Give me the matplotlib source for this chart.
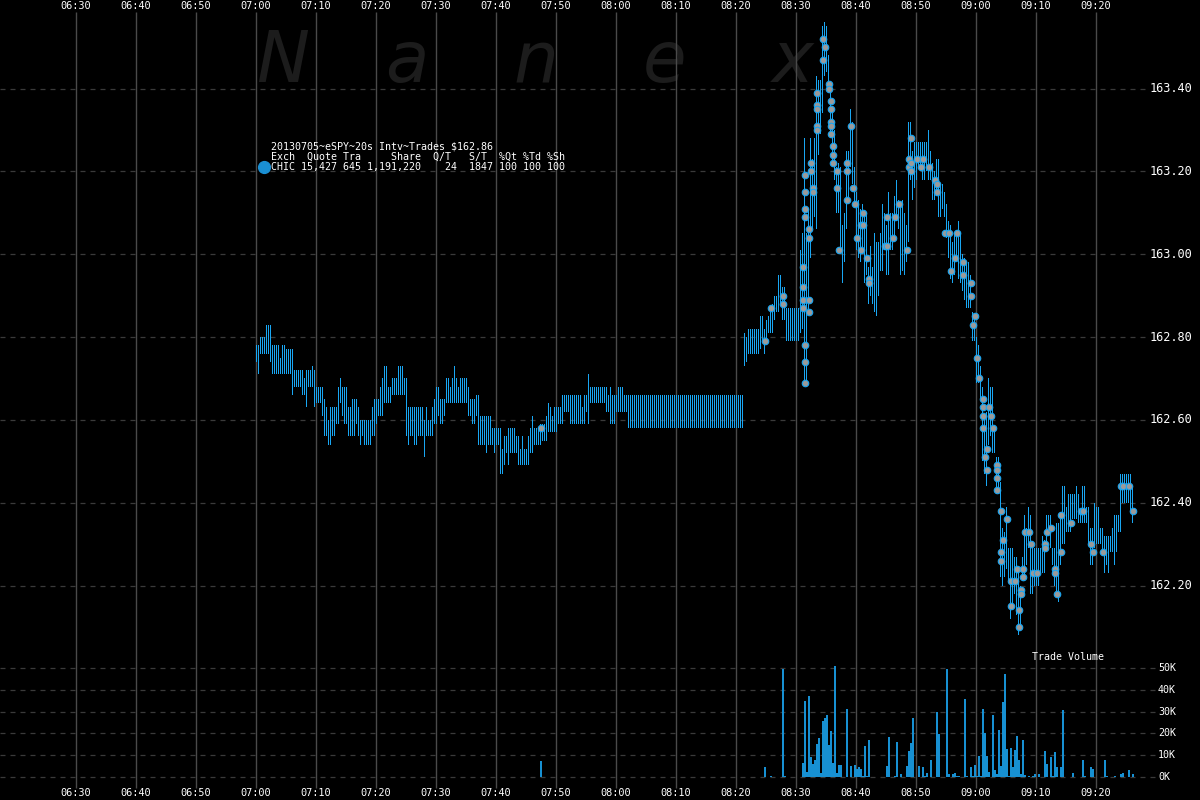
import numpy as np
import matplotlib
matplotlib.use("Agg")
import matplotlib.pyplot as plt

# ---------------- data ----------------
time_labels = ["06:30", "06:40", "06:50", "07:00", "07:10", "07:20", "07:30", "07:40", "07:50",
               "08:00", "08:10", "08:20", "08:30", "08:40", "08:50", "09:00", "09:10", "09:20"]
price_ticks = [162.20, 162.40, 162.60, 162.80, 163.00, 163.20, 163.40]
vol_ticks = [0, 10000, 20000, 30000, 40000, 50000]
vol_tick_labels = ["0K", "10K", "20K", "30K", "40K", "50K"]

# 20-second bars from 07:00, run-length encoded (count, low, high)
# section A: 07:00 - 07:39
len_a = [1, 1, 3, 2, 1, 4, 1, 2, 3, 1,
         4, 1, 1, 1, 2, 1, 1, 3, 1, 1,
         1, 1, 1, 2, 1, 1, 1, 1, 2, 2,
         2, 1, 1, 1, 1, 4, 1, 1, 1, 1,
         1, 1, 2, 2, 3, 3, 1, 1, 1, 2,
         2, 3, 1, 1, 2, 1, 1, 1, 1, 2,
         1, 2, 1, 1, 1, 1, 1, 4, 1, 1,
         2, 1, 1, 3, 1, 2]
lo_a = [162.74, 162.71, 162.76, 162.76, 162.74, 162.71, 162.71, 162.71, 162.71, 162.66,
        162.68, 162.66, 162.66, 162.63, 162.68, 162.68, 162.63, 162.64, 162.61, 162.56,
        162.56, 162.54, 162.54, 162.56, 162.59, 162.59, 162.64, 162.61, 162.59, 162.56,
        162.56, 162.59, 162.56, 162.54, 162.56, 162.54, 162.56, 162.56, 162.59, 162.61,
        162.61, 162.61, 162.64, 162.64, 162.66, 162.66, 162.66, 162.56, 162.54, 162.56,
        162.54, 162.56, 162.51, 162.56, 162.56, 162.56, 162.59, 162.59, 162.61, 162.59,
        162.61, 162.64, 162.64, 162.64, 162.64, 162.64, 162.64, 162.64, 162.61, 162.61,
        162.59, 162.61, 162.54, 162.54, 162.52, 162.54]
hi_a = [162.78, 162.78, 162.80, 162.83, 162.83, 162.78, 162.75, 162.78, 162.77, 162.77,
        162.72, 162.72, 162.70, 162.72, 162.72, 162.73, 162.72, 162.68, 162.68, 162.65,
        162.63, 162.60, 162.63, 162.63, 162.63, 162.68, 162.70, 162.68, 162.68, 162.63,
        162.65, 162.65, 162.63, 162.60, 162.60, 162.60, 162.63, 162.65, 162.65, 162.65,
        162.68, 162.70, 162.73, 162.68, 162.70, 162.73, 162.70, 162.70, 162.63, 162.63,
        162.63, 162.63, 162.60, 162.63, 162.60, 162.63, 162.65, 162.68, 162.68, 162.65,
        162.65, 162.70, 162.68, 162.70, 162.73, 162.70, 162.68, 162.70, 162.68, 162.65,
        162.65, 162.66, 162.66, 162.61, 162.61, 162.61]
# section B: 07:39 - 08:21
len_b = [1, 1, 2, 1, 1, 1, 1, 1, 3, 1,
         1, 1, 1, 2, 1, 1, 1, 3, 1, 2,
         1, 1, 1, 1, 2, 2, 1, 3, 6, 1,
         1, 1, 1, 8, 1, 1, 1, 2, 1, 3,
         2, 58]
lo_b = [162.54, 162.52, 162.54, 162.47, 162.47, 162.49, 162.52, 162.49, 162.52, 162.52,
        162.49, 162.49, 162.49, 162.49, 162.49, 162.52, 162.52, 162.54, 162.54, 162.55,
        162.55, 162.57, 162.57, 162.57, 162.57, 162.59, 162.59, 162.62, 162.59, 162.59,
        162.59, 162.62, 162.59, 162.64, 162.62, 162.62, 162.59, 162.59, 162.62, 162.62,
        162.62, 162.58]
hi_b = [162.58, 162.58, 162.58, 162.58, 162.53, 162.56, 162.56, 162.58, 162.58, 162.56,
        162.56, 162.53, 162.56, 162.53, 162.56, 162.58, 162.61, 162.58, 162.59, 162.59,
        162.61, 162.64, 162.63, 162.61, 162.63, 162.63, 162.66, 162.66, 162.66, 162.63,
        162.66, 162.66, 162.71, 162.68, 162.68, 162.66, 162.68, 162.66, 162.66, 162.68,
        162.66, 162.66]
# section C: 08:21 - 08:30
len_c = [1, 1, 6, 1, 1, 1, 1, 1, 1, 1,
         1, 1, 1, 1, 2, 7]
lo_c = [162.73, 162.74, 162.76, 162.77, 162.79, 162.76, 162.78, 162.81, 162.81, 162.81,
        162.84, 162.86, 162.86, 162.88, 162.84, 162.79]
hi_c = [162.81, 162.80, 162.82, 162.85, 162.85, 162.82, 162.84, 162.85, 162.87, 162.88,
        162.90, 162.90, 162.95, 162.95, 162.92, 162.87]

# single 20-second bars from 08:30:40 onward (low, high)
late_lo = [162.81, 162.82, 162.69, 162.68, 162.86, 162.99, 163.06, 163.09, 163.06, 163.24,
           163.29, 163.34, 163.43, 163.44, 163.39, 163.29, 163.22, 163.18, 163.10, 163.10,
           163.01, 162.93, 162.98, 163.06, 163.13, 163.21, 163.17, 163.12, 163.01, 162.99,
           162.98, 163.00, 162.93, 162.95, 162.88, 162.90, 162.88, 162.86, 162.85, 162.90,
           162.96, 162.96, 163.01, 162.95, 162.95, 163.01, 163.01, 163.04, 163.08, 163.06,
           162.95, 162.96, 162.95, 162.98, 163.03, 163.18, 163.13, 163.16, 163.18, 163.21,
           163.21, 163.18, 163.18, 163.20, 163.18, 163.18, 163.13, 163.13, 163.14, 163.09,
           163.09, 163.11, 163.09, 163.04, 162.99, 162.94, 162.93, 162.95, 162.99, 162.94,
           162.93, 162.91, 162.89, 162.87, 162.87, 162.87, 162.79, 162.79, 162.69, 162.69,
           162.65, 162.50, 162.47, 162.44, 162.54, 162.56, 162.52, 162.52, 162.42, 162.42,
           162.22, 162.20, 162.22, 162.24, 162.21, 162.12, 162.14, 162.18, 162.13, 162.08,
           162.10, 162.21, 162.22, 162.25, 162.29, 162.18, 162.18, 162.20, 162.20, 162.20,
           162.23, 162.23, 162.23, 162.29, 162.34, 162.29, 162.25, 162.20, 162.18, 162.16,
           162.25, 162.30, 162.30, 162.33, 162.33, 162.33, 162.36, 162.36, 162.36, 162.35,
           162.35, 162.35, 162.35, 162.35, 162.30, 162.25, 162.25, 162.29, 162.30, 162.30,
           162.30, 162.28, 162.23, 162.25, 162.23, 162.28, 162.28, 162.25, 162.28, 162.33,
           162.33, 162.40, 162.40, 162.40, 162.40, 162.38, 162.35]
late_hi = [163.01, 163.05, 163.28, 163.05, 163.11, 163.28, 163.23, 163.28, 163.43, 163.42,
           163.42, 163.55, 163.56, 163.55, 163.48, 163.40, 163.34, 163.30, 163.21, 163.22,
           163.21, 163.07, 163.10, 163.25, 163.25, 163.35, 163.32, 163.21, 163.15, 163.13,
           163.11, 163.12, 163.09, 163.10, 162.97, 163.02, 162.97, 163.05, 163.03, 163.03,
           163.05, 163.12, 163.10, 163.07, 163.15, 163.10, 163.10, 163.14, 163.18, 163.13,
           163.12, 163.13, 163.10, 163.07, 163.32, 163.32, 163.25, 163.27, 163.27, 163.27,
           163.27, 163.27, 163.27, 163.27, 163.30, 163.25, 163.22, 163.20, 163.23, 163.23,
           163.17, 163.17, 163.15, 163.12, 163.08, 163.07, 163.03, 163.05, 163.05, 163.08,
           163.05, 163.00, 162.99, 162.98, 162.98, 162.95, 162.86, 162.85, 162.80, 162.78,
           162.73, 162.68, 162.61, 162.62, 162.70, 162.68, 162.68, 162.58, 162.51, 162.51,
           162.45, 162.34, 162.33, 162.39, 162.29, 162.29, 162.29, 162.27, 162.27, 162.24,
           162.20, 162.27, 162.37, 162.34, 162.39, 162.37, 162.29, 162.29, 162.29, 162.29,
           162.29, 162.32, 162.31, 162.37, 162.37, 162.37, 162.29, 162.29, 162.35, 162.35,
           162.37, 162.44, 162.44, 162.39, 162.42, 162.42, 162.42, 162.42, 162.44, 162.42,
           162.38, 162.44, 162.44, 162.39, 162.39, 162.34, 162.34, 162.40, 162.39, 162.39,
           162.34, 162.34, 162.32, 162.32, 162.32, 162.32, 162.34, 162.37, 162.37, 162.37,
           162.47, 162.47, 162.47, 162.47, 162.47, 162.47, 162.44]

# trade volume per 20-second bar index (thousands of shares)
vol_idx = [142, 254, 257, 263, 264, 273, 274, 275, 276, 277,
           278, 279, 280, 281, 282, 283, 284, 285, 286, 287,
           288, 289, 290, 291, 292, 295, 297, 299, 300, 301,
           302, 303, 304, 305, 306, 315, 316, 319, 320, 322,
           325, 326, 327, 328, 331, 333, 334, 335, 337, 340,
           341, 345, 346, 348, 349, 350, 351, 354, 355, 357,
           358, 359, 360, 361, 362, 363, 364, 365, 366, 368,
           369, 370, 371, 372, 373, 374, 375, 376, 377, 378,
           379, 380, 381, 382, 383, 384, 386, 388, 389, 391,
           394, 395, 397, 398, 399, 400, 402, 403, 408, 413,
           414, 417, 418, 424, 425, 429, 432, 433, 436, 438]
vol_k = [7.3, 4.7, 0.6, 49.7, 0.5, 6.4, 35.0, 2.4, 37.3, 9.3,
         6.1, 8.0, 15.1, 18.0, 2.0, 25.5, 27.0, 28.6, 14.8, 21.3,
         6.6, 51.0, 2.0, 5.7, 5.7, 31.2, 5.2, 5.7, 3.8, 4.7,
         3.8, 0.3, 14.2, 0.3, 17.1, 5.0, 18.3, 0.3, 15.9, 1.5,
         5.0, 11.8, 15.6, 27.2, 5.2, 4.7, 0.3, 2.0, 8.0, 30.0,
         19.7, 49.7, 1.2, 1.2, 1.8, 0.6, 0.3, 36.0, 0.6, 4.7,
         0.3, 5.7, 0.6, 9.6, 0.6, 31.0, 20.0, 9.8, 2.1, 28.6,
         3.1, 1.2, 21.6, 5.0, 34.6, 47.3, 13.0, 0.3, 13.3, 4.7,
         12.5, 18.8, 8.0, 1.5, 17.0, 1.0, 0.3, 0.3, 1.5, 1.5,
         12.0, 6.1, 9.3, 0.3, 11.5, 4.7, 4.7, 30.6, 2.0, 7.9,
         0.3, 4.6, 3.5, 7.9, 0.3, 0.3, 1.5, 2.0, 3.4, 1.5]

# individual trade prints (bar index, price)
dot_idx = [142, 254, 257, 263, 263, 273, 273, 273, 273, 274,
           274, 274, 274, 274, 274, 274, 276, 276, 276, 276,
           277, 277, 278, 278, 280, 280, 280, 280, 280, 283,
           283, 284, 286, 286, 287, 287, 287, 287, 287, 288,
           288, 288, 290, 290, 291, 295, 295, 295, 297, 298,
           299, 300, 302, 302, 303, 303, 305, 306, 306, 314,
           315, 315, 318, 319, 321, 325, 326, 326, 327, 327,
           327, 330, 332, 333, 336, 339, 340, 340, 344, 346,
           347, 349, 350, 353, 353, 357, 357, 358, 359, 360,
           361, 363, 363, 363, 363, 364, 365, 365, 366, 367,
           368, 370, 370, 370, 370, 372, 372, 372, 373, 375,
           377, 377, 379, 380, 381, 381, 382, 382, 383, 383,
           384, 386, 387, 388, 390, 394, 394, 395, 397, 399,
           399, 400, 402, 402, 407, 412, 413, 417, 418, 423,
           432, 433, 436, 438]
dot_px = [162.58, 162.79, 162.87, 162.90, 162.88, 162.97, 162.92, 162.89, 162.87, 163.19,
          163.15, 163.11, 163.09, 162.78, 162.74, 162.69, 163.06, 163.04, 162.89, 162.86,
          163.22, 163.20, 163.16, 163.15, 163.39, 163.36, 163.35, 163.31, 163.30, 163.47,
          163.52, 163.50, 163.41, 163.40, 163.37, 163.35, 163.32, 163.31, 163.29, 163.26,
          163.24, 163.22, 163.20, 163.16, 163.01, 163.13, 163.22, 163.20, 163.31, 163.16,
          163.12, 163.04, 163.07, 163.01, 163.10, 163.07, 162.99, 162.94, 162.93, 163.02,
          163.09, 163.02, 163.04, 163.09, 163.12, 163.01, 163.23, 163.21, 163.28, 163.22,
          163.20, 163.23, 163.21, 163.23, 163.21, 163.18, 163.17, 163.15, 163.05, 163.05,
          162.96, 162.99, 163.05, 162.98, 162.95, 162.93, 162.90, 162.83, 162.85, 162.75,
          162.70, 162.65, 162.63, 162.61, 162.58, 162.51, 162.53, 162.48, 162.63, 162.61,
          162.58, 162.49, 162.48, 162.46, 162.43, 162.38, 162.26, 162.28, 162.31, 162.36,
          162.21, 162.15, 162.21, 162.24, 162.14, 162.10, 162.19, 162.18, 162.24, 162.22,
          162.33, 162.33, 162.30, 162.23, 162.23, 162.30, 162.29, 162.33, 162.34, 162.24,
          162.23, 162.18, 162.28, 162.37, 162.35, 162.38, 162.38, 162.30, 162.28, 162.28,
          162.44, 162.44, 162.44, 162.38]

legend_title = "20130705~eSPY~20s Intv~Trades $162.86"
legend_head = "Exch  Quote Tra     Share  Q/T   S/T  %Qt %Td %Sh"
legend_row = "CHIC 15,427 645 1,191,220    24  1847 100 100 100"
watermark = "Nanex"

# ---------------- layout helpers (pixel <-> data) ----------------
W, H = 1200, 800
PX_MIN = 6.0
X0 = 76.0
PY0, PY_PER = 88.5, 414.2

def mx(px):
    return (px - X0) / PX_MIN

def pp(py):
    return 163.40 - (py - PY0) / PY_PER

BAR_BLUE = "#19a6f2"
VOL_BLUE = "#1790d2"
GRID_V = "#4a4a4a"
GRID_H = "#3a3a3a"
MONO = "DejaVu Sans Mono"

fig = plt.figure(figsize=(12, 8), dpi=100, facecolor="black")
ax = fig.add_axes([0, 0, 1, 1])
ax.set_facecolor("black")
ax.set_xlim(mx(0), mx(W))
ax.set_ylim(pp(H), pp(0))
ax.axis("off")

for k, ch in enumerate(watermark):
    ax.text(mx(256 + 129 * k), pp(82), ch, fontsize=51, style="italic",
            family="DejaVu Sans", color="#1c1c1c", ha="left", va="baseline", zorder=0)

for k, lab in enumerate(time_labels):
    xm = k * 10
    ax.plot([xm, xm], [pp(788), pp(12)], color=GRID_V, lw=1.0, zorder=1, solid_capstyle="butt")
    ax.text(xm, pp(6), lab, color="white", fontsize=7.4, family=MONO, ha="center", va="center")
    ax.text(xm, pp(793), lab, color="white", fontsize=7.4, family=MONO, ha="center", va="center")

for p in price_ticks:
    ax.plot([mx(0), mx(1146)], [p, p], color=GRID_H, lw=0.9, ls=(0, (4, 4)), zorder=1)
    ax.text(mx(1150), p, f"{p:.2f}", color="white", fontsize=8.6, family=MONO,
            ha="left", va="center")

# price bars: one-pixel-wide rectangles (low..high) per 20-second interval
run_len = len_a + len_b + len_c
run_lo = lo_a + lo_b + lo_c
run_hi = hi_a + hi_b + hi_c
lo = np.concatenate([np.repeat(run_lo, run_len), late_lo])
hi = np.concatenate([np.repeat(run_hi, run_len), late_hi])
idx = np.arange(len(lo))
bx = 30 + idx / 3
ax.bar(bx, hi - lo, bottom=lo, width=1.0 / PX_MIN, align="edge", color=BAR_BLUE,
       linewidth=0, antialiased=False, zorder=2)

n_dot = min(len(dot_idx), len(dot_px))
dx = 30 + np.array(dot_idx[:n_dot]) / 3 + 1 / 12
ax.scatter(dx, dot_px[:n_dot], s=22, c="#9a9a9a", edgecolors=BAR_BLUE, linewidths=0.8, zorder=3)

ax.text(mx(271), pp(147), legend_title, color="white", fontsize=7.2, family=MONO, ha="left", va="center")
ax.text(mx(271), pp(157), legend_head, color="white", fontsize=7.2, family=MONO, ha="left", va="center")
ax.text(mx(271), pp(167), legend_row, color="white", fontsize=7.2, family=MONO, ha="left", va="center")
ax.plot([mx(263.5)], [pp(167)], marker="o", markersize=8.5, color="#1a8fd3", zorder=4)

VB0, VPX = 777.0, 109.0 / 50000.0
top_px, bot_px = 650, 795
vax = fig.add_axes([0, (H - bot_px) / H, 1, (bot_px - top_px) / H])
vax.patch.set_alpha(0)
vax.set_xlim(mx(0), mx(W))
vax.set_ylim(-(bot_px - VB0) / VPX, (VB0 - top_px) / VPX)
vax.axis("off")
for v, lab in zip(vol_ticks, vol_tick_labels):
    vax.plot([mx(0), mx(1155)], [v, v], color=GRID_H, lw=0.9, ls=(0, (4, 4)), zorder=1)
    vax.text(mx(1158), v, lab, color="white", fontsize=7.2, family=MONO, ha="left", va="center")
n_vol = min(len(vol_idx), len(vol_k))
vx = 30 + np.array(vol_idx[:n_vol]) / 3 + 1 / 6
vax.bar(vx, np.array(vol_k[:n_vol]) * 1000, width=1.7 / PX_MIN, color=VOL_BLUE, zorder=2)
vax.text(mx(1032), (VB0 - 657) / VPX, "Trade Volume", color="white", fontsize=7.2,
         family=MONO, ha="left", va="center")

fig.savefig("out.png", dpi=100, facecolor="black")
